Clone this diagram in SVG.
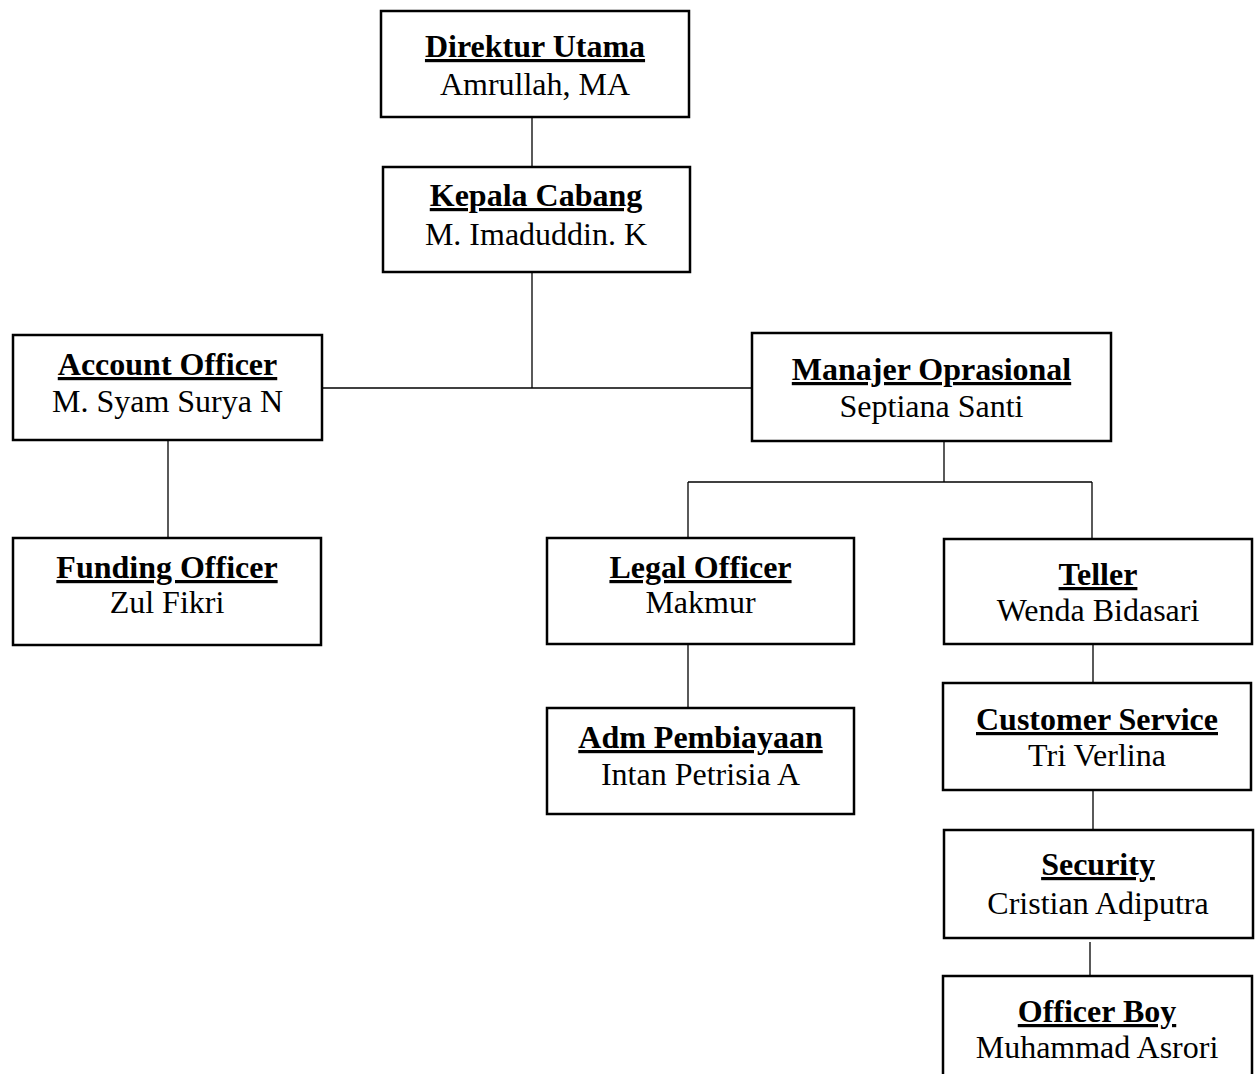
<svg xmlns="http://www.w3.org/2000/svg" width="1256" height="1074" viewBox="0 0 1256 1074">
<style>
.box{fill:#fff;stroke:#000;stroke-width:2.5}
.t{font-family:"Liberation Serif","Times New Roman",serif;font-size:32px;fill:#000;text-anchor:middle}
.h{font-weight:bold;text-decoration:underline;text-decoration-thickness:3px}
.c{fill:none;stroke:#000;stroke-width:1.3}
</style>
<rect width="1256" height="1074" fill="#fff"/>
<g id="connectors">
<line class="c" x1="532" y1="117" x2="532" y2="167"/>
<line class="c" x1="532" y1="272" x2="532" y2="388"/>
<line class="c" x1="322" y1="388" x2="752" y2="388"/>
<line class="c" x1="168" y1="440" x2="168" y2="538"/>
<line class="c" x1="944" y1="441" x2="944" y2="482"/>
<line class="c" x1="688" y1="482" x2="1092" y2="482"/>
<line class="c" x1="688" y1="482" x2="688" y2="538"/>
<line class="c" x1="1092" y1="482" x2="1092" y2="539"/>
<line class="c" x1="688" y1="644" x2="688" y2="708"/>
<line class="c" x1="1093" y1="644" x2="1093" y2="683"/>
<line class="c" x1="1093" y1="790" x2="1093" y2="830"/>
<line class="c" x1="1090" y1="942" x2="1090" y2="976"/>
</g>
<g id="direktur">
<rect class="box" x="381" y="11" width="308" height="106"/>
<text class="t h" x="535" y="57">Direktur Utama</text>
<text class="t" x="535" y="95">Amrullah, MA</text>
</g>
<g id="kepala">
<rect class="box" x="383" y="167" width="307" height="105"/>
<text class="t h" x="536" y="206">Kepala Cabang</text>
<text class="t" x="536" y="245">M. Imaduddin. K</text>
</g>
<g id="account">
<rect class="box" x="13" y="335" width="309" height="105"/>
<text class="t h" x="167.5" y="375">Account Officer</text>
<text class="t" x="167.5" y="412">M. Syam Surya N</text>
</g>
<g id="manajer">
<rect class="box" x="752" y="333" width="359" height="108"/>
<text class="t h" x="931.5" y="380">Manajer Oprasional</text>
<text class="t" x="931.5" y="417">Septiana Santi</text>
</g>
<g id="funding">
<rect class="box" x="13" y="538" width="308" height="107"/>
<text class="t h" x="167" y="578">Funding Officer</text>
<text class="t" x="167" y="613">Zul Fikri</text>
</g>
<g id="legal">
<rect class="box" x="547" y="538" width="307" height="106"/>
<text class="t h" x="700.5" y="578">Legal Officer</text>
<text class="t" x="700.5" y="613">Makmur</text>
</g>
<g id="teller">
<rect class="box" x="944" y="539" width="308" height="105"/>
<text class="t h" x="1098" y="585">Teller</text>
<text class="t" x="1098" y="621">Wenda Bidasari</text>
</g>
<g id="adm">
<rect class="box" x="547" y="708" width="307" height="106"/>
<text class="t h" x="700.5" y="748">Adm Pembiayaan</text>
<text class="t" x="700.5" y="785">Intan Petrisia A</text>
</g>
<g id="cs">
<rect class="box" x="943" y="683" width="308" height="107"/>
<text class="t h" x="1097" y="730">Customer Service</text>
<text class="t" x="1097" y="766">Tri Verlina</text>
</g>
<g id="security">
<rect class="box" x="944" y="830" width="309" height="108"/>
<text class="t h" x="1098" y="875">Security</text>
<text class="t" x="1098" y="914">Cristian Adiputra</text>
</g>
<g id="officerboy">
<rect class="box" x="943" y="976" width="309" height="110"/>
<text class="t h" x="1097" y="1022">Officer Boy</text>
<text class="t" x="1097" y="1058">Muhammad Asrori</text>
</g>
</svg>
